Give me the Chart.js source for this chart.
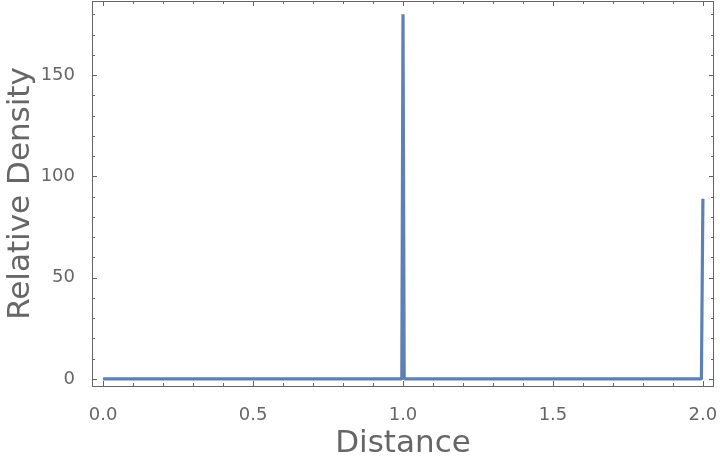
<!DOCTYPE html>
<html lang="en">
<head>
    <meta charset="UTF-8">
    <title>Relative Density vs Distance</title>
    <script src="https://cdn.jsdelivr.net/npm/chart.js"></script>
    <style>
        body {
            margin: 0;
            padding: 0;
            background-color: #fff;
        }

        .container {
            width: 720px;
            height: 464px;
            position: relative;
        }
    </style>
</head>
<body>
    <div class="container">
        <canvas id="densityChart"></canvas>
    </div>
    <script>
        // Values
        const distance = [0.0, 0.996, 1.0, 1.004, 1.995, 2.0];
        const density  = [0,   0,     180, 0,     0,     89];

        const xTickValues = [0.0, 0.5, 1.0, 1.5, 2.0];
        const yTickValues = [0, 50, 100, 150];
        const xMinorStep = 0.1;
        const yMinorStep = 10;

        const axisGray = '#666666';
        const lineBlue = '#5E81B5';

        // Mathematica-style frame with inward ticks on all four sides
        const frameTicks = {
            id: 'frameTicks',
            afterDatasetsDraw(chart) {
                const { ctx, chartArea: a, scales: { x, y } } = chart;
                ctx.save();
                ctx.strokeStyle = axisGray;
                ctx.lineWidth = 1;
                ctx.strokeRect(a.left + 0.5, a.top + 0.5, a.right - a.left - 1, a.bottom - a.top);

                ctx.beginPath();
                const xCount = Math.round(x.max / xMinorStep);
                for (let i = 0; i <= xCount; i++) {
                    const v = i * xMinorStep;
                    if (v > x.max) break;
                    const major = xTickValues.some(t => Math.abs(t - v) < 1e-6);
                    const len = major ? 5 : 3;
                    const px = Math.round(x.getPixelForValue(v)) + 0.5;
                    ctx.moveTo(px, a.bottom);
                    ctx.lineTo(px, a.bottom - len);
                    ctx.moveTo(px, a.top);
                    ctx.lineTo(px, a.top + len);
                }
                const yCount = Math.round(y.max / yMinorStep);
                for (let i = 0; i <= yCount; i++) {
                    const v = i * yMinorStep;
                    if (v > y.max) break;
                    const major = yTickValues.includes(v);
                    const len = major ? 5 : 3;
                    const py = Math.round(y.getPixelForValue(v)) + 0.5;
                    ctx.moveTo(a.left, py);
                    ctx.lineTo(a.left + len, py);
                    ctx.moveTo(a.right, py);
                    ctx.lineTo(a.right - len, py);
                }
                ctx.stroke();
                ctx.restore();
            }
        };

        const ctx = document.getElementById('densityChart').getContext('2d');
        new Chart(ctx, {
            type: 'scatter',
            data: {
                datasets: [{
                    label: 'Relative Density',
                    data: distance.map((d, i) => ({ x: d, y: density[i] })),
                    showLine: true,
                    borderColor: lineBlue,
                    borderWidth: 3.2,
                    borderJoinStyle: 'bevel',
                    pointRadius: 0,
                    tension: 0,
                }]
            },
            options: {
                responsive: true,
                maintainAspectRatio: false,
                animation: false,
                layout: {
                    padding: { top: 1, right: 6, left: 0, bottom: 0 }
                },
                plugins: {
                    legend: { display: false },
                    tooltip: { enabled: false }
                },
                scales: {
                    x: {
                        type: 'linear',
                        min: -0.037,
                        max: 2.037,
                        grid: { display: false },
                        border: { display: false },
                        afterBuildTicks: scale => {
                            scale.ticks = xTickValues.map(v => ({ value: v }));
                        },
                        afterFit: scale => {
                            scale.height = 78;
                            scale.paddingLeft = 0;
                            scale.paddingRight = 0;
                        },
                        ticks: {
                            color: axisGray,
                            padding: 11,
                            maxRotation: 0,
                            font: { family: 'DejaVu Sans', size: 18 },
                            callback: v => Number(v).toFixed(1)
                        },
                        title: {
                            display: true,
                            text: 'Distance',
                            color: axisGray,
                            font: { family: 'DejaVu Sans', size: 31 },
                            padding: { top: 0, bottom: 1 }
                        }
                    },
                    y: {
                        type: 'linear',
                        min: -3.5,
                        max: 186.6,
                        grid: { display: false },
                        border: { display: false },
                        afterBuildTicks: scale => {
                            scale.ticks = yTickValues.map(v => ({ value: v }));
                        },
                        afterFit: scale => {
                            scale.width = 92;
                            scale.paddingTop = 0;
                            scale.paddingBottom = 0;
                        },
                        ticks: {
                            color: axisGray,
                            padding: 9,
                            font: { family: 'DejaVu Sans', size: 18 },
                            callback: v => String(v)
                        },
                        title: {
                            display: true,
                            text: 'Relative Density',
                            color: axisGray,
                            font: { family: 'DejaVu Sans', size: 31 },
                            padding: { top: 2, bottom: 0 }
                        }
                    }
                }
            },
            plugins: [frameTicks]
        });
    </script>
</body>
</html>
